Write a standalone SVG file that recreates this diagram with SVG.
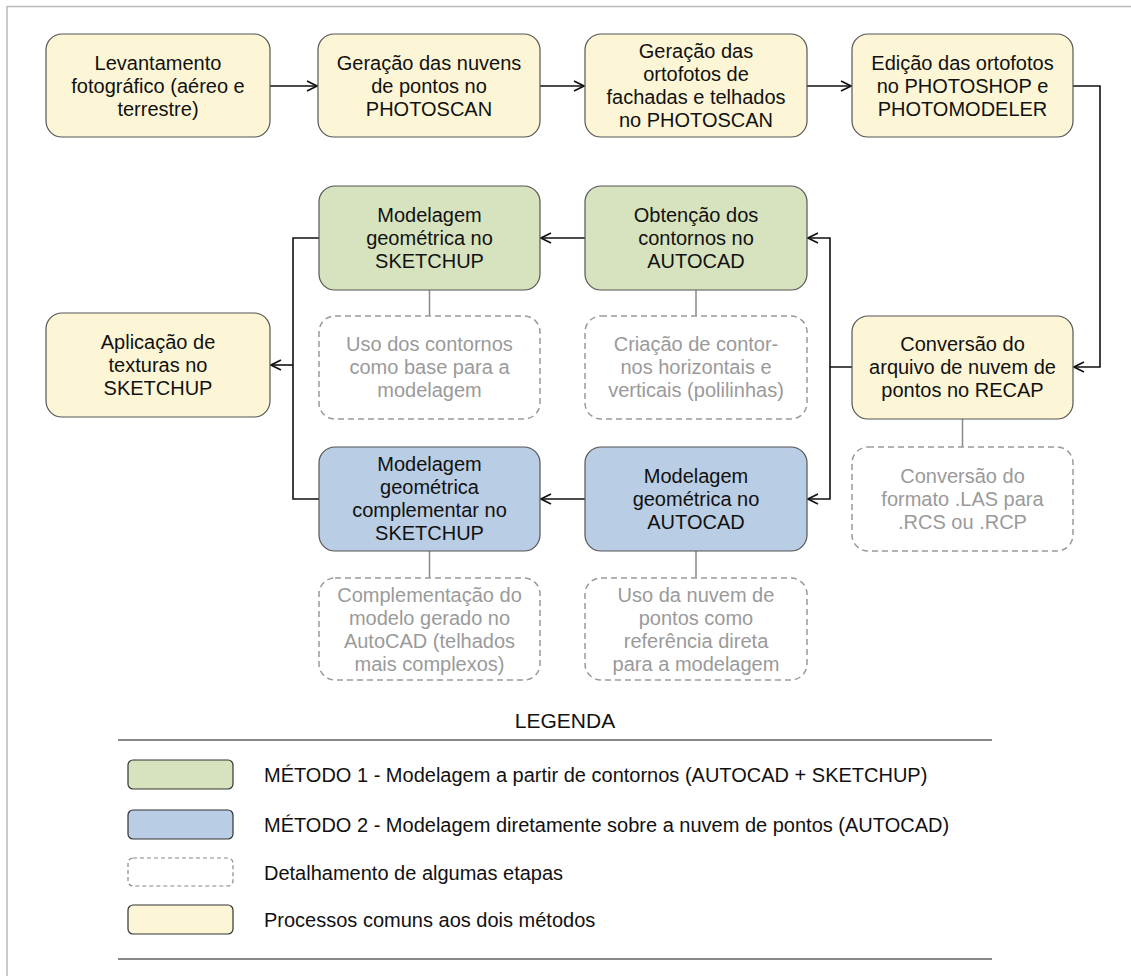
<svg xmlns="http://www.w3.org/2000/svg" width="1131" height="976" viewBox="0 0 1131 976">
<defs>
<style>
.t{font-family:"Liberation Sans",Arial,sans-serif;font-size:20px;fill:#111;text-anchor:middle}
.d{font-family:"Liberation Sans",Arial,sans-serif;font-size:20px;fill:#9a9a9a;text-anchor:middle}
.l{font-family:"Liberation Sans",Arial,sans-serif;font-size:20px;fill:#111}
.y{fill:#fdf6d6;stroke:#555;stroke-width:1.2}
.g{fill:#d7e3be;stroke:#555;stroke-width:1.2}
.b{fill:#b9cde4;stroke:#555;stroke-width:1.2}
.ds{fill:#fff;stroke:#9a9a9a;stroke-width:1.5;stroke-dasharray:6 4}
.c{fill:none;stroke:#111;stroke-width:1.6}
.gl{fill:none;stroke:#888;stroke-width:1.5}
</style>
<marker id="ah" viewBox="0 0 12 12" refX="11" refY="6" markerWidth="12" markerHeight="12" markerUnits="userSpaceOnUse" orient="auto">
<path d="M1,1 L11,6 L1,11" fill="none" stroke="#111" stroke-width="1.6"/>
</marker>
</defs>
<rect width="1131" height="976" fill="#fff"/>
<path d="M7,976 V6.5 H1131" fill="none" stroke="#bbb" stroke-width="1.5"/>

<g id="connectors">
<path class="c" d="M270,86 H317" marker-end="url(#ah)"/>
<path class="c" d="M540,86 H584" marker-end="url(#ah)"/>
<path class="c" d="M807,86 H851" marker-end="url(#ah)"/>
<path class="c" d="M1073,86 H1100 V367 H1074" marker-end="url(#ah)"/>
<path class="c" d="M852,367 H830 V238 H808" marker-end="url(#ah)"/>
<path class="c" d="M830,367 V499 H808" marker-end="url(#ah)"/>
<path class="c" d="M585,238 H541" marker-end="url(#ah)"/>
<path class="c" d="M585,499 H541" marker-end="url(#ah)"/>
<path class="c" d="M319,238 H293 V499 H319"/>
<path class="c" d="M293,365 H271" marker-end="url(#ah)"/>
<path class="gl" d="M429.5,290 V316"/>
<path class="gl" d="M696,290 V316"/>
<path class="gl" d="M962.5,419 V447"/>
<path class="gl" d="M429.5,551 V578"/>
<path class="gl" d="M696,551 V578"/>
</g>

<g id="n1"><rect class="y" x="46" y="34" width="224" height="103" rx="16"/>
<text class="t"><tspan x="158" y="70">Levantamento</tspan><tspan x="158" y="93">fotográfico (aéreo e</tspan><tspan x="158" y="116">terrestre)</tspan></text></g>
<g id="n2"><rect class="y" x="318" y="34" width="222" height="103" rx="16"/>
<text class="t"><tspan x="429" y="70">Geração das nuvens</tspan><tspan x="429" y="93">de pontos no</tspan><tspan x="429" y="116">PHOTOSCAN</tspan></text></g>
<g id="n3"><rect class="y" x="585" y="34" width="222" height="103" rx="16"/>
<text class="t"><tspan x="696" y="58">Geração das</tspan><tspan x="696" y="81">ortofotos de</tspan><tspan x="696" y="104">fachadas e telhados</tspan><tspan x="696" y="127">no PHOTOSCAN</tspan></text></g>
<g id="n4"><rect class="y" x="852" y="34" width="221" height="103" rx="16"/>
<text class="t"><tspan x="962.5" y="70">Edição das ortofotos</tspan><tspan x="962.5" y="93">no PHOTOSHOP e</tspan><tspan x="962.5" y="116">PHOTOMODELER</tspan></text></g>

<g id="n5"><rect class="g" x="319" y="186" width="221" height="104" rx="16"/>
<text class="t"><tspan x="429.5" y="222">Modelagem</tspan><tspan x="429.5" y="245">geométrica no</tspan><tspan x="429.5" y="268">SKETCHUP</tspan></text></g>
<g id="n6"><rect class="g" x="585" y="186" width="222" height="104" rx="16"/>
<text class="t"><tspan x="696" y="222">Obtenção dos</tspan><tspan x="696" y="245">contornos no</tspan><tspan x="696" y="268">AUTOCAD</tspan></text></g>

<g id="n7"><rect class="y" x="46" y="313" width="224" height="104" rx="16"/>
<text class="t"><tspan x="158" y="349">Aplicação de</tspan><tspan x="158" y="372">texturas no</tspan><tspan x="158" y="395">SKETCHUP</tspan></text></g>
<g id="n8"><rect class="ds" x="319" y="316" width="221" height="103" rx="16"/>
<text class="d"><tspan x="429.5" y="351">Uso dos contornos</tspan><tspan x="429.5" y="374">como base para a</tspan><tspan x="429.5" y="397">modelagem</tspan></text></g>
<g id="n9"><rect class="ds" x="585" y="316" width="222" height="103" rx="16"/>
<text class="d"><tspan x="696" y="351">Criação de contor-</tspan><tspan x="696" y="374">nos horizontais e</tspan><tspan x="696" y="397">verticais (polilinhas)</tspan></text></g>
<g id="n10"><rect class="y" x="852" y="316" width="221" height="103" rx="16"/>
<text class="t"><tspan x="962.5" y="351">Conversão do</tspan><tspan x="962.5" y="374">arquivo de nuvem de</tspan><tspan x="962.5" y="397">pontos no RECAP</tspan></text></g>

<g id="n11"><rect class="b" x="319" y="447" width="221" height="104" rx="16"/>
<text class="t"><tspan x="429.5" y="471">Modelagem</tspan><tspan x="429.5" y="494">geométrica</tspan><tspan x="429.5" y="517">complementar no</tspan><tspan x="429.5" y="540">SKETCHUP</tspan></text></g>
<g id="n12"><rect class="b" x="585" y="447" width="222" height="104" rx="16"/>
<text class="t"><tspan x="696" y="483">Modelagem</tspan><tspan x="696" y="506">geométrica no</tspan><tspan x="696" y="529">AUTOCAD</tspan></text></g>
<g id="n13"><rect class="ds" x="852" y="447" width="221" height="104" rx="16"/>
<text class="d"><tspan x="962.5" y="483">Conversão do</tspan><tspan x="962.5" y="506">formato .LAS para</tspan><tspan x="962.5" y="529">.RCS ou .RCP</tspan></text></g>

<g id="n14"><rect class="ds" x="319" y="578" width="221" height="102" rx="16"/>
<text class="d"><tspan x="429.5" y="602">Complementação do</tspan><tspan x="429.5" y="625">modelo gerado no</tspan><tspan x="429.5" y="648">AutoCAD (telhados</tspan><tspan x="429.5" y="671">mais complexos)</tspan></text></g>
<g id="n15"><rect class="ds" x="585" y="578" width="222" height="102" rx="16"/>
<text class="d"><tspan x="696" y="602">Uso da nuvem de</tspan><tspan x="696" y="625">pontos como</tspan><tspan x="696" y="648">referência direta</tspan><tspan x="696" y="671">para a modelagem</tspan></text></g>

<g id="legend">
<text class="t" x="565" y="728" style="font-size:21px">LEGENDA</text>
<path d="M118,740 H992 M118,959 H992" stroke="#888" stroke-width="2"/>
<rect x="128" y="760" width="105" height="29" rx="5" fill="#d7e3be" stroke="#333" stroke-width="1.2"/>
<rect x="128" y="810" width="105" height="29" rx="5" fill="#b9cde4" stroke="#333" stroke-width="1.2"/>
<rect x="128" y="858" width="105" height="28" rx="5" fill="#fff" stroke="#888" stroke-width="1.2" stroke-dasharray="4 3"/>
<rect x="128" y="905" width="105" height="29" rx="5" fill="#fdf6d6" stroke="#333" stroke-width="1.2"/>
<text class="l" x="264" y="782">MÉTODO 1 - Modelagem a partir de contornos (AUTOCAD + SKETCHUP)</text>
<text class="l" x="264" y="832">MÉTODO 2 - Modelagem diretamente sobre a nuvem de pontos (AUTOCAD)</text>
<text class="l" x="264" y="880">Detalhamento de algumas etapas</text>
<text class="l" x="264" y="927">Processos comuns aos dois métodos</text>
</g>
</svg>
